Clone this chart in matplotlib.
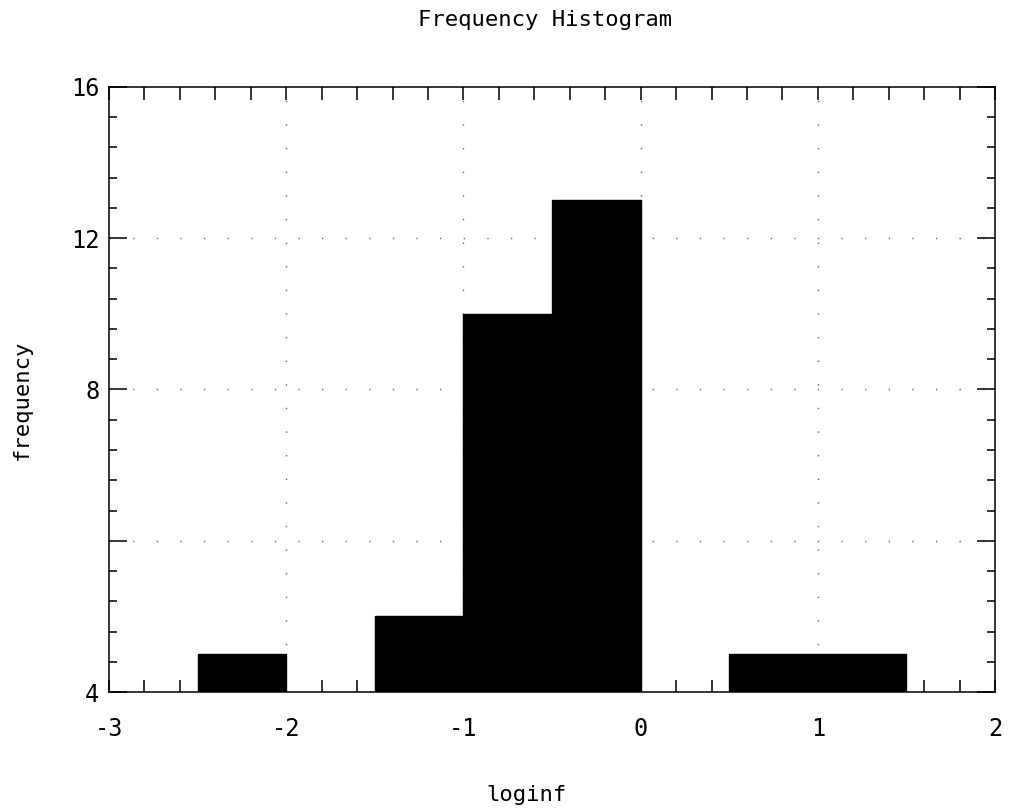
import matplotlib
matplotlib.use("Agg")
import matplotlib.pyplot as plt
from matplotlib.ticker import MultipleLocator, FixedLocator

# Data (histogram bins of loginf)
bin_lefts = [-2.5, -1.5, -1.0, -0.5, 0.5, 1.0]
bin_width = 0.5
frequencies = [1, 2, 10, 13, 1, 1]

x_ticks = [-3, -2, -1, 0, 1, 2]
x_tick_labels = ["-3", "-2", "-1", "0", "1", "2"]
y_ticks = [0, 4, 8, 12, 16]
y_tick_labels = ["4", "", "8", "12", "16"]

title = "Frequency Histogram"
xlabel = "loginf"
ylabel = "frequency"

plt.rcParams['font.family'] = ['DejaVu Sans Mono']

fig = plt.figure(figsize=(10.17, 8.09), dpi=100)
ax = fig.add_axes([0.1072, 0.1446, 0.8712, 0.7479])

ax.bar(bin_lefts, frequencies, width=bin_width, align='edge',
       color='black', edgecolor='black', linewidth=1.0, zorder=3)

ax.set_xlim(-3, 2)
ax.set_ylim(0, 16)

ax.xaxis.set_major_locator(FixedLocator(x_ticks))
ax.set_xticklabels(x_tick_labels)
ax.xaxis.set_minor_locator(MultipleLocator(0.2))
ax.yaxis.set_major_locator(FixedLocator(y_ticks))
ax.set_yticklabels(y_tick_labels)
ax.yaxis.set_minor_locator(MultipleLocator(0.8))

ax.tick_params(axis='x', which='both', direction='in', top=True, bottom=True,
               length=9, width=1.1, labelsize=17, pad=18)
ax.tick_params(axis='y', which='major', direction='in', left=True, right=True,
               length=13, width=1.1, labelsize=17, pad=7)
ax.tick_params(axis='y', which='minor', direction='in', left=True, right=True,
               length=6, width=1.1)

for s in ax.spines.values():
    s.set_linewidth(1.1)
    s.set_color('black')

for xv in [-2, -1, 0, 1]:
    ax.axvline(xv, color='#666666', linewidth=1.0, linestyle=(0, (1, 16)), zorder=1)
for yv in [4, 8, 12]:
    ax.axhline(yv, color='#666666', linewidth=1.0, linestyle=(0, (1, 16)), zorder=1)

fig.text(0.536, 0.975, title, ha='center', va='center', fontsize=16)
fig.text(0.518, 0.0173, xlabel, ha='center', va='center', fontsize=16)
fig.text(0.0216, 0.506, ylabel, ha='center', va='center', rotation=90, fontsize=16)

fig.savefig("out.png", dpi=100)
